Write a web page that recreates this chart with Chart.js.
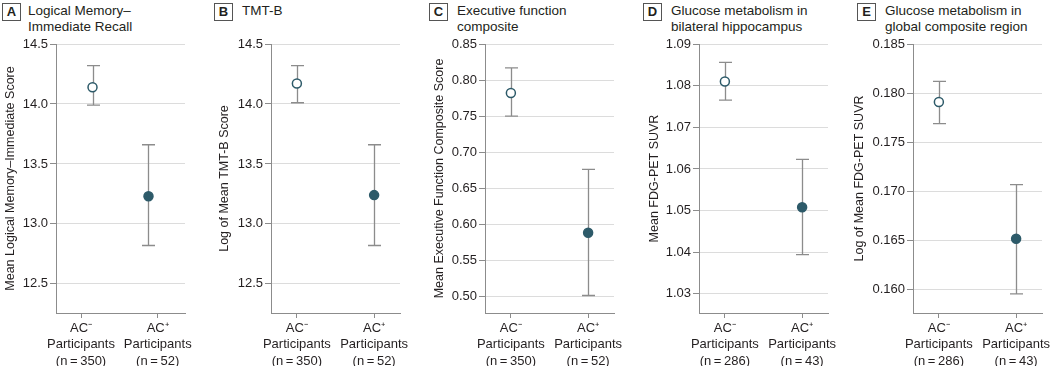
<!DOCTYPE html>
<html>
<head>
<meta charset="utf-8">
<script src="https://cdn.jsdelivr.net/npm/chart.js@4.4.1/dist/chart.umd.min.js"></script>
<style>
  html, body { margin: 0; padding: 0; background: #fff; overflow: hidden; }
  body { width: 1050px; height: 366px; position: relative; font-family: 'Liberation Sans', sans-serif; color: #231f20; }
  .panel { position: absolute; top: 0; }
  .badge { position: absolute; top: 3px; width: 17px; height: 16px; border: 1px solid #555; font-weight: bold; font-size: 13px; line-height: 16px; text-align: center; }
  .title { position: absolute; top: 3px; font-size: 13.5px; line-height: 16px; }
</style>
</head>
<body>
<script>
const letters = ['A', 'B', 'C', 'D', 'E'];
const panelTitles = [
  ['Logical Memory\u2013', 'Immediate Recall'],
  ['TMT-B'],
  ['Executive function', 'composite'],
  ['Glucose metabolism in', 'bilateral hippocampus'],
  ['Glucose metabolism in', 'global composite region']
];
const yTitles = [
  'Mean Logical Memory\u2013Immediate Score',
  'Log of Mean TMT-B Score',
  'Mean Executive Function Composite Score',
  'Mean FDG-PET SUVR',
  'Log of Mean FDG-PET SUVR'
];
const groups = ['AC\u207B', 'AC\u207A'];
const groupN = [
  ['(n\u2009=\u2009350)', '(n\u2009=\u200952)'],
  ['(n\u2009=\u2009350)', '(n\u2009=\u200952)'],
  ['(n\u2009=\u2009350)', '(n\u2009=\u200952)'],
  ['(n\u2009=\u2009286)', '(n\u2009=\u200943)'],
  ['(n\u2009=\u2009286)', '(n\u2009=\u200943)']
];
const means = [[14.14, 13.23], [14.17, 13.24], [0.782, 0.588], [1.081, 1.0508], [0.1791, 0.1652]];
const lower = [[13.99, 12.82], [14.01, 12.82], [0.750, 0.501], [1.0765, 1.0394], [0.1769, 0.1596]];
const upper = [[14.32, 13.66], [14.32, 13.66], [0.817, 0.676], [1.0856, 1.0623], [0.1812, 0.1707]];
const yTickLabels = [
  ['12.5', '13.0', '13.5', '14.0', '14.5'],
  ['12.5', '13.0', '13.5', '14.0', '14.5'],
  ['0.50', '0.55', '0.60', '0.65', '0.70', '0.75', '0.80', '0.85'],
  ['1.03', '1.04', '1.05', '1.06', '1.07', '1.08', '1.09'],
  ['0.160', '0.165', '0.170', '0.175', '0.180', '0.185']
];
const yMin = [12.257, 12.257, 0.4767, 1.0254, 0.15765];
const yMax = [14.5, 14.5, 0.85, 1.09, 0.185];

// layout
const panelLeft = [0, 214, 429, 644, 849];
const yAxisWidth = [56, 57, 56, 55, 64];
const badgeLeft = [2, 214, 429, 643, 857];
const titleLeft = [28, 242, 457, 671, 885];
// panel A draws its markers a little inside the category ticks
const pointX = [[0.15, 0.88], [0, 1], [0, 1], [0, 1], [0, 1]];
const xMin = [-0.326, -0.335, -0.335, -0.335, -0.335];
const xMax = [1.356, 1.335, 1.335, 1.335, 1.335];
const plotW = 129, padRight = 14;
const FONT = "'Liberation Sans', sans-serif";
const dark = '#2d5a69';

const errorBars = {
  id: 'errorBars',
  beforeDatasetsDraw(chart) {
    const { ctx, scales: { x, y } } = chart;
    const ds = chart.data.datasets[0];
    ctx.save();
    ctx.strokeStyle = '#8c8c8c';
    ctx.lineWidth = 1.3;
    ds.data.forEach((p, i) => {
      const px = Math.round(x.getPixelForValue(p.x)) + 0.5;
      const top = y.getPixelForValue(ds.upper[i]);
      const bot = y.getPixelForValue(ds.lower[i]);
      ctx.beginPath();
      ctx.moveTo(px, top); ctx.lineTo(px, bot);
      ctx.moveTo(px - 6.5, top); ctx.lineTo(px + 6.5, top);
      ctx.moveTo(px - 6.5, bot); ctx.lineTo(px + 6.5, bot);
      ctx.stroke();
    });
    ctx.restore();
  }
};

letters.forEach((letter, k) => {
  const badge = document.createElement('div');
  badge.className = 'badge';
  badge.style.left = badgeLeft[k] + 'px';
  badge.textContent = letter;
  document.body.appendChild(badge);

  const title = document.createElement('div');
  title.className = 'title';
  title.style.left = titleLeft[k] + 'px';
  title.innerHTML = panelTitles[k].join('<br>');
  document.body.appendChild(title);

  const wrap = document.createElement('div');
  wrap.className = 'panel';
  wrap.style.left = panelLeft[k] + 'px';
  const canvas = document.createElement('canvas');
  canvas.width = yAxisWidth[k] + plotW + padRight;
  canvas.height = 366;
  wrap.appendChild(canvas);
  document.body.appendChild(wrap);

  new Chart(canvas.getContext('2d'), {
    type: 'scatter',
    data: {
      datasets: [{
        data: means[k].map((m, i) => ({ x: pointX[k][i], y: m })),
        lower: lower[k],
        upper: upper[k],
        backgroundColor: ['#ffffff', dark],
        borderColor: dark,
        borderWidth: 1.5,
        pointRadius: 4.5,
        pointHoverRadius: 4.5
      }]
    },
    options: {
      responsive: false,
      animation: false,
      events: [],
      layout: { padding: { top: 44, right: padRight, bottom: 0, left: 0 } },
      scales: {
        x: {
          type: 'linear',
          min: xMin[k],
          max: xMax[k],
          afterBuildTicks: s => { s.ticks = groups.map((g, i) => ({ value: i })); },
          afterFit: s => { s.height = 53; },
          grid: { drawOnChartArea: false, tickColor: '#8c8c8c', tickLength: 5 },
          border: { color: '#8c8c8c', width: 1 },
          ticks: {
            autoSkip: false,
            maxRotation: 0,
            padding: 2,
            color: '#231f20',
            font: { family: FONT, size: 13, lineHeight: 1.27 },
            callback: v => [groups[v], 'Participants', groupN[k][v]]
          }
        },
        y: {
          min: yMin[k],
          max: yMax[k],
          afterBuildTicks: s => { s.ticks = yTickLabels[k].map(t => ({ value: parseFloat(t) })); },
          afterFit: s => { s.width = yAxisWidth[k]; },
          grid: { color: '#dcdcdc', tickColor: '#8c8c8c', tickLength: 6 },
          border: { color: '#8c8c8c', width: 1 },
          ticks: {
            padding: 2,
            color: '#231f20',
            font: { family: FONT, size: 13 },
            callback: (v, i) => yTickLabels[k][i]
          },
          title: {
            display: true,
            text: yTitles[k],
            color: '#231f20',
            font: { family: FONT, size: 12.5 },
            padding: { top: 3, bottom: 0 }
          }
        }
      },
      plugins: {
        legend: { display: false },
        tooltip: { enabled: false }
      }
    },
    plugins: [errorBars]
  });
});
</script>
</body>
</html>
